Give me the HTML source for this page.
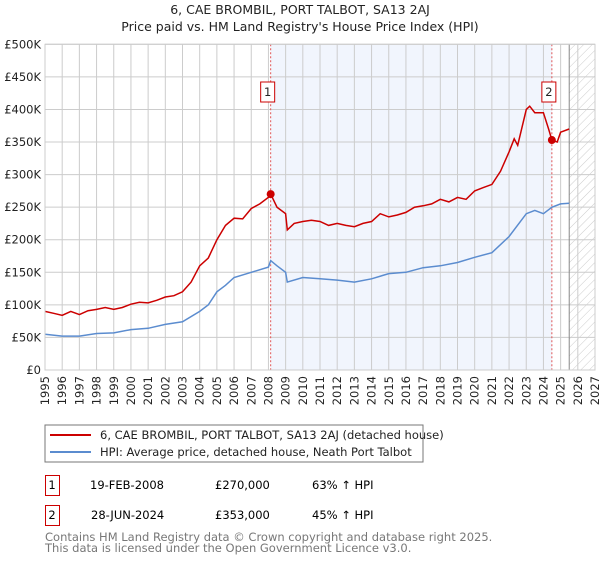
<!DOCTYPE html>
<html><head><meta charset="utf-8"><style>
body{margin:0;background:#fff;font-family:"DejaVu Sans","Liberation Sans",sans-serif;}
svg text{font-family:"DejaVu Sans","Liberation Sans",sans-serif;}
</style></head><body>
<svg id="c" width="600" height="560" xmlns="http://www.w3.org/2000/svg">
<defs><pattern id="hatch" width="6" height="6" patternUnits="userSpaceOnUse" patternTransform="rotate(45)"><line x1="0" y1="0" x2="0" y2="6" stroke="#ccc" stroke-width="1"/></pattern></defs>
<text x="300" y="14" text-anchor="middle" font-size="12.5" fill="#222">6, CAE BROMBIL, PORT TALBOT, SA13 2AJ</text>
<text x="300" y="31" text-anchor="middle" font-size="12.5" fill="#222">Price paid vs. HM Land Registry's House Price Index (HPI)</text>
<g id="plot"></g>
<rect x="45" y="425" width="378" height="37" fill="#fff" stroke="#777"/>
<line x1="50" y1="435" x2="91" y2="435" stroke="#cc0000" stroke-width="2"/>
<text x="100" y="439" font-size="11.5" fill="#222">6, CAE BROMBIL, PORT TALBOT, SA13 2AJ (detached house)</text>
<line x1="50" y1="452" x2="91" y2="452" stroke="#5b8ccf" stroke-width="2"/>
<text x="100" y="456" font-size="11.5" fill="#222">HPI: Average price, detached house, Neath Port Talbot</text>
<g>
<rect x="45.5" y="475.5" width="14" height="20" fill="none" stroke="#cc0000"/>
<text x="52" y="489" text-anchor="middle" font-size="11.5">1</text>
<text x="90" y="489" font-size="11.5">19-FEB-2008</text>
<text x="215" y="489" font-size="11.5">£270,000</text>
<text x="312" y="489" font-size="11.5">63% ↑ HPI</text></g>
<g>
<rect x="45.5" y="505.5" width="14" height="20" fill="none" stroke="#cc0000"/>
<text x="52" y="519" text-anchor="middle" font-size="11.5">2</text>
<text x="91" y="519" font-size="11.5">28-JUN-2024</text>
<text x="215" y="519" font-size="11.5">£353,000</text>
<text x="312" y="519" font-size="11.5">45% ↑ HPI</text></g>
<text x="45" y="541" font-size="11.5" fill="#777">Contains HM Land Registry data © Crown copyright and database right 2025.</text>
<text x="45" y="552" font-size="11.5" fill="#777">This data is licensed under the Open Government Licence v3.0.</text>
</svg>
<script>
const yearTicks=[1995,1996,1997,1998,1999,2000,2001,2002,2003,2004,2005,2006,2007,2008,2009,2010,2011,2012,2013,2014,2015,2016,2017,2018,2019,2020,2021,2022,2023,2024,2025,2026,2027];
const valueTicks=[0,50,100,150,200,250,300,350,400,450,500];
const valueLabels=["£0","£50K","£100K","£150K","£200K","£250K","£300K","£350K","£400K","£450K","£500K"];
const redT=[1995,1995.5,1996,1996.5,1997,1997.5,1998,1998.5,1999,1999.5,2000,2000.5,2001,2001.5,2002,2002.5,2003,2003.5,2004,2004.5,2005,2005.5,2006,2006.5,2007,2007.5,2008,2008.13,2008.5,2009,2009.1,2009.5,2010,2010.5,2011,2011.5,2012,2012.5,2013,2013.5,2014,2014.5,2015,2015.5,2016,2016.5,2017,2017.5,2018,2018.5,2019,2019.5,2020,2020.5,2021,2021.5,2022,2022.3,2022.5,2023,2023.2,2023.5,2024,2024.3,2024.49,2024.8,2025,2025.5];
const redV=[90,87,84,90,85,91,93,96,93,96,101,104,103,107,112,114,120,135,160,172,200,222,233,232,248,255,265,270,250,240,215,225,228,230,228,222,225,222,220,225,228,240,235,238,242,250,252,255,262,258,265,262,275,280,285,305,335,355,345,400,405,395,395,370,353,350,365,370];
const blueT=[1995,1996,1997,1998,1999,2000,2001,2002,2003,2004,2004.5,2005,2005.5,2006,2007,2008,2008.13,2008.5,2009,2009.1,2010,2011,2012,2013,2014,2015,2016,2017,2018,2019,2020,2021,2022,2023,2023.5,2024,2024.5,2025,2025.5];
const blueV=[55,52,52,56,57,62,64,70,74,90,100,120,130,142,150,158,168,160,150,135,142,140,138,135,140,148,150,157,160,165,173,180,205,240,245,240,250,255,256];
const saleT=[2008.13,2024.49];
const saleV=[270,353];
const saleLabels=["1","2"];
const X0=45,X1=595,Y0=370,Y1=44.3;
const xs=t=>X0+(t-1995)/(2027-1995)*(X1-X0);
const ys=v=>Y0-v/500*(Y0-Y1);
const NS="http://www.w3.org/2000/svg";
const g=document.getElementById('plot');
function mk(tag,attrs){const e=document.createElementNS(NS,tag);for(const k in attrs)e.setAttribute(k,attrs[k]);g.appendChild(e);return e;}
let e;
e=mk('rect',{x:xs(saleT[0]),y:Y1,width:xs(saleT[1])-xs(saleT[0]),height:Y0-Y1,fill:'#eef2fc',opacity:0.8});


e=mk('rect',{x:xs(2025.5),y:Y1,width:X1-xs(2025.5),height:Y0-Y1,fill:'url(#hatch)'});


yearTicks.forEach(t=>{
 e=mk('line',{x1:xs(t),x2:xs(t),y1:Y1,y2:Y0,stroke:'#ccc','stroke-width':1});
 
 
 e=mk('text',{x:0,y:0,'font-size':11.5,fill:'#222','text-anchor':'end',transform:`translate(${xs(t)+4},${Y0+6}) rotate(-90)`});
 e.textContent=t;
 
 
});
valueTicks.forEach((v,i)=>{
 e=mk('line',{x1:X0,x2:X1,y1:ys(v),y2:ys(v),stroke:'#ccc','stroke-width':1});
 
 
 e=mk('text',{x:X0-4,y:ys(v)+4,'font-size':11.5,fill:'#222','text-anchor':'end'});
 e.textContent=valueLabels[i];
 
 
});
e=mk('line',{x1:xs(2025.5),x2:xs(2025.5),y1:Y1,y2:Y0,stroke:'#888','stroke-width':1});


saleT.forEach((t,i)=>{
 e=mk('line',{x1:xs(t),x2:xs(t),y1:Y1,y2:Y0,stroke:'#e05555','stroke-width':1,'stroke-dasharray':'2,2'});
 
 
});
e=mk('path',{d:blueT.map((t,i)=>(i?'L':'M')+xs(t).toFixed(1)+','+ys(blueV[i]).toFixed(1)).join(''),fill:'none',stroke:'#5b8ccf','stroke-width':1.5});


e=mk('path',{d:redT.map((t,i)=>(i?'L':'M')+xs(t).toFixed(1)+','+ys(redV[i]).toFixed(1)).join(''),fill:'none',stroke:'#cc0000','stroke-width':1.5});


saleT.forEach((t,i)=>{
 e=mk('circle',{cx:xs(t),cy:ys(saleV[i]),r:4,fill:'#cc0000'});
 
 
 e=mk('rect',{x:xs(t)-10,y:82,width:14,height:20,fill:'#fff',stroke:'#cc0000'});
 
 
 e=mk('text',{x:xs(t)-3,y:96,'font-size':11.5,'text-anchor':'middle',fill:'#222'});
 e.textContent=saleLabels[i];
 
 
});
e=mk('rect',{x:X0,y:Y1,width:X1-X0,height:Y0-Y1,fill:'none',stroke:'#ccc'});


</script>
</body></html>
